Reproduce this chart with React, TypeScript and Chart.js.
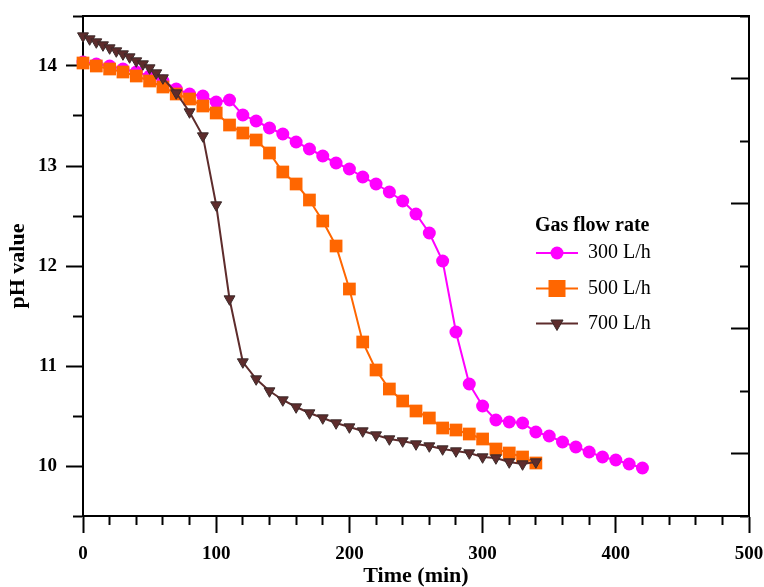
import React, { useEffect, useRef } from 'react';
import { Chart, registerables } from 'chart.js';

Chart.register(...registerables);

// ---- data ----
const time300 = [0, 10, 20, 30, 40, 50, 60, 70, 80, 90, 100, 110, 120, 130, 140, 150, 160, 170, 180, 190, 200, 210, 220, 230, 240, 250, 260, 270, 280, 290, 300, 310, 320, 330, 340, 350, 360, 370, 380, 390, 400, 410, 420];
const ph300 = [14.04, 14.02, 14.0, 13.97, 13.94, 13.9, 13.85, 13.77, 13.72, 13.7, 13.64, 13.66, 13.51, 13.45, 13.38, 13.32, 13.24, 13.17, 13.1, 13.03, 12.97, 12.89, 12.82, 12.74, 12.65, 12.52, 12.33, 12.05, 11.34, 10.82, 10.6, 10.46, 10.44, 10.43, 10.34, 10.3, 10.24, 10.19, 10.14, 10.09, 10.06, 10.02, 9.98];

const time500 = [0, 10, 20, 30, 40, 50, 60, 70, 80, 90, 100, 110, 120, 130, 140, 150, 160, 170, 180, 190, 200, 210, 220, 230, 240, 250, 260, 270, 280, 290, 300, 310, 320, 330, 340];
const ph500 = [14.03, 14.0, 13.97, 13.94, 13.9, 13.85, 13.79, 13.72, 13.67, 13.6, 13.53, 13.41, 13.33, 13.26, 13.13, 12.94, 12.82, 12.66, 12.45, 12.2, 11.77, 11.24, 10.96, 10.77, 10.65, 10.55, 10.48, 10.38, 10.36, 10.32, 10.27, 10.17, 10.13, 10.09, 10.03];

const time700 = [0, 5, 10, 15, 20, 25, 30, 35, 40, 45, 50, 55, 60, 70, 80, 90, 100, 110, 120, 130, 140, 150, 160, 170, 180, 190, 200, 210, 220, 230, 240, 250, 260, 270, 280, 290, 300, 310, 320, 330, 340];
const ph700 = [14.3, 14.27, 14.24, 14.21, 14.18, 14.15, 14.12, 14.09, 14.05, 14.02, 13.98, 13.93, 13.88, 13.73, 13.54, 13.3, 12.61, 11.67, 11.04, 10.87, 10.75, 10.66, 10.59, 10.53, 10.48, 10.43, 10.39, 10.35, 10.31, 10.27, 10.25, 10.22, 10.2, 10.17, 10.15, 10.13, 10.09, 10.08, 10.04, 10.02, 10.04];

const seriesLabels = ['300 L/h', '500 L/h', '700 L/h'];
const legendTitle = 'Gas flow rate';
const xTitle = 'Time (min)';
const yTitle = 'pH value';

const SERIF = '"Liberation Serif", "Times New Roman", serif';
const COLORS = ['#ff00ff', '#ff6600', '#5e2c2c'];

const toPoints = (xs: number[], ys: number[]) => xs.map((x, i) => ({ x, y: ys[i] }));

const isMult = (v: number, m: number) => Math.abs(v / m - Math.round(v / m)) < 1e-6;

const noPad = (s: any) => {
  s.paddingLeft = 0;
  s.paddingRight = 0;
  s.paddingTop = 0;
  s.paddingBottom = 0;
};

const insetLegend = {
  id: 'insetLegend',
  afterDraw(chart: any) {
    const ctx = chart.ctx as CanvasRenderingContext2D;
    ctx.save();
    ctx.fillStyle = '#000';
    ctx.textAlign = 'left';
    ctx.textBaseline = 'middle';
    ctx.font = `bold 20px ${SERIF}`;
    ctx.fillText(legendTitle, 535, 226);
    const rows = [253, 288.5, 323.5];
    chart.data.datasets.forEach((ds: any, i: number) => {
      const y = rows[i];
      const c = ds.borderColor;
      ctx.strokeStyle = c;
      ctx.lineWidth = 2;
      ctx.beginPath();
      ctx.moveTo(536, y);
      ctx.lineTo(578, y);
      ctx.stroke();
      ctx.fillStyle = ds.pointBackgroundColor;
      const cx = 557;
      if (ds.pointStyle === 'circle') {
        ctx.beginPath();
        ctx.arc(cx, y, 6.5, 0, Math.PI * 2);
        ctx.fill();
      } else if (ds.pointStyle === 'rect') {
        ctx.fillRect(cx - 8.5, y - 8.5, 17, 17);
      } else {
        const r = 7;
        ctx.beginPath();
        ctx.moveTo(cx, y + r);
        ctx.lineTo(cx - r * 0.866, y - r / 2);
        ctx.lineTo(cx + r * 0.866, y - r / 2);
        ctx.closePath();
        ctx.fill();
        ctx.strokeStyle = ds.pointBorderColor;
        ctx.lineWidth = 1;
        ctx.stroke();
      }
      ctx.fillStyle = '#000';
      ctx.font = `20px ${SERIF}`;
      ctx.fillText(ds.label, 588, y);
    });
    ctx.restore();
  },
};

export default function App() {
  const ref = useRef<HTMLCanvasElement | null>(null);

  useEffect(() => {
    if (!ref.current) return;
    const tickFont = { family: SERIF, size: 19, weight: 'bold' as const };
    const titleFont = { family: SERIF, size: 22, weight: 'bold' as const, lineHeight: 1 };
    const chart = new Chart(ref.current, {
      type: 'line',
      data: {
        datasets: [
          {
            label: seriesLabels[0],
            data: toPoints(time300, ph300),
            borderColor: COLORS[0],
            backgroundColor: COLORS[0],
            pointBackgroundColor: COLORS[0],
            pointBorderColor: COLORS[0],
            pointBorderWidth: 0,
            pointStyle: 'circle',
            pointRadius: 6.5,
            borderWidth: 2,
            order: 3,
            clip: false as any,
          },
          {
            label: seriesLabels[1],
            data: toPoints(time500, ph500),
            borderColor: COLORS[1],
            backgroundColor: COLORS[1],
            pointBackgroundColor: COLORS[1],
            pointBorderColor: COLORS[1],
            pointBorderWidth: 0,
            pointStyle: 'rect',
            pointRadius: 9,
            borderWidth: 2,
            order: 2,
            clip: false as any,
          },
          {
            label: seriesLabels[2],
            data: toPoints(time700, ph700),
            borderColor: COLORS[2],
            backgroundColor: COLORS[2],
            pointBackgroundColor: COLORS[2],
            pointBorderColor: '#3a2a2a',
            pointBorderWidth: 1,
            pointStyle: 'triangle',
            pointRotation: 180,
            pointRadius: 6.3,
            borderWidth: 2,
            order: 1,
            clip: false as any,
          },
        ],
      },
      options: {
        animation: false,
        responsive: false,
        maintainAspectRatio: false,
        layout: { padding: { top: 16, right: 15, left: 0, bottom: 0 } },
        plugins: {
          legend: { display: false },
          tooltip: { enabled: false },
        },
        elements: { line: { tension: 0 } },
        scales: {
          x: {
            type: 'linear',
            position: 'bottom',
            min: 0,
            max: 500,
            afterFit: (s: any) => {
              s.height = 71;
              noPad(s);
            },
            ticks: {
              stepSize: 20,
              autoSkip: false,
              maxRotation: 0,
              padding: 10,
              color: '#000',
              font: tickFont,
              callback: (v: any) => (isMult(Number(v), 100) ? String(v) : ''),
            },
            grid: {
              drawOnChartArea: false,
              tickLength: 17,
              tickWidth: 2,
              tickColor: '#000',
              tickBorderDash: (c: any) => (c.tick && isMult(c.tick.value, 100) ? [] : [8, 100]),
            },
            border: { display: true, color: '#000', width: 2 },
            title: {
              display: true,
              text: xTitle,
              color: '#000',
              font: titleFont,
              padding: { top: 0, bottom: 0 },
            },
          },
          x2: {
            type: 'linear',
            position: 'top',
            min: 0,
            max: 500,
            afterFit: (s: any) => {
              s.height = 0;
              noPad(s);
            },
            ticks: { display: false },
            grid: { display: false },
            border: { display: true, color: '#000', width: 2 },
          },
          y: {
            type: 'linear',
            position: 'left',
            min: 9.5,
            max: 14.5,
            afterFit: (s: any) => {
              s.width = 83;
              noPad(s);
            },
            ticks: {
              stepSize: 0.5,
              autoSkip: false,
              padding: 9,
              color: '#000',
              font: tickFont,
              callback: (v: any) => (isMult(Number(v), 1) ? String(Math.round(Number(v))) : ''),
            },
            grid: {
              drawOnChartArea: false,
              tickLength: 17,
              tickWidth: 2,
              tickColor: '#000',
              tickBorderDash: (c: any) => (c.tick && isMult(c.tick.value, 1) ? [] : [9, 100]),
              tickBorderDashOffset: (c: any) => (c.tick && isMult(c.tick.value, 1) ? 0 : 102),
            },
            border: { display: true, color: '#000', width: 2 },
            title: {
              display: true,
              text: yTitle,
              color: '#000',
              font: titleFont,
              padding: { top: 7, bottom: 0 },
            },
          },
          y2: {
            type: 'linear',
            position: { x: 500 } as any,
            min: 0,
            max: 8,
            afterFit: (s: any) => {
              s.width = 0;
              noPad(s);
            },
            ticks: { display: false, stepSize: 1, autoSkip: false },
            grid: {
              drawOnChartArea: false,
              tickLength: 17,
              tickWidth: 2,
              tickColor: '#000',
              tickBorderDash: (c: any) => (c.tick && Math.round(c.tick.value) % 2 === 1 ? [] : [8, 100]),
            },
            border: { display: true, color: '#000', width: 2 },
          },
        },
      } as any,
      plugins: [insetLegend],
    });
    return () => chart.destroy();
  }, []);

  return (
    <div style={{ position: 'fixed', left: 0, top: 0, width: 764, height: 587, background: '#fff' }}>
      <canvas ref={ref} width={764} height={587} style={{ display: 'block' }} />
    </div>
  );
}
